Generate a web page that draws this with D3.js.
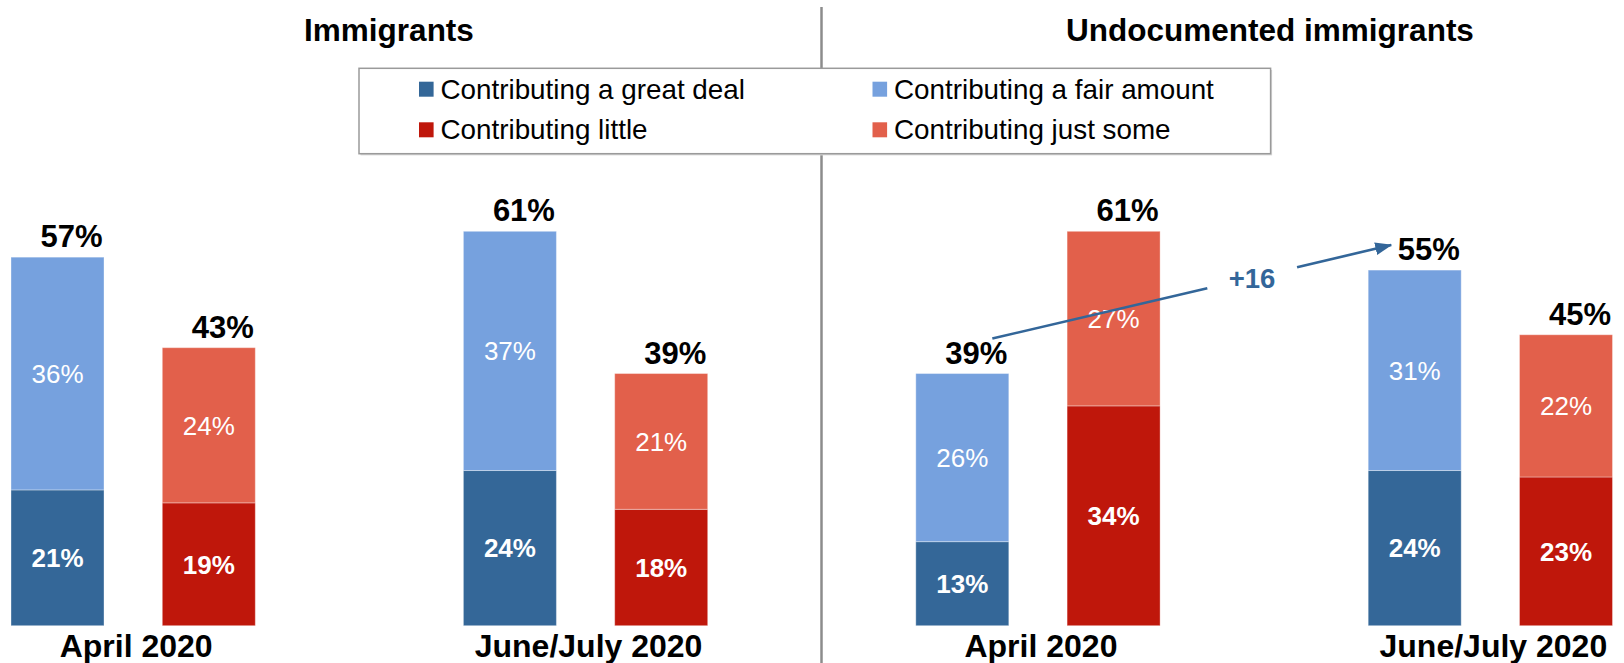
<!DOCTYPE html>
<html>
<head>
<meta charset="utf-8">
<script src="https://cdn.jsdelivr.net/npm/d3@7"></script>
<style>
  html, body { margin: 0; padding: 0; background: #fff; }
  svg { display: block; font-family: Arial, "Liberation Sans", sans-serif; }
</style>
</head>
<body>
<svg id="chart" width="1624" height="663"></svg>
<script>
// ---------- data ----------
const groups = ["imm_apr", "imm_jun", "und_apr", "und_jun"];
const categoryLabels = ["April 2020", "June/July 2020", "April 2020", "June/July 2020"];
const panelTitles = ["Immigrants", "Undocumented immigrants"];
const seriesNames = ["Contributing a great deal", "Contributing a fair amount", "Contributing little", "Contributing just some"];
const greatDeal  = [21, 24, 13, 24];
const fairAmount = [36, 37, 26, 31];
const little     = [19, 18, 34, 23];
const justSome   = [24, 21, 27, 22];
const positiveTotal = [57, 61, 39, 55];
const negativeTotal = [43, 39, 61, 45];
const changeLabel = "+16";

// ---------- styles ----------
const C = {
  greatDeal: "#346798",
  fairAmount: "#76A1DE",
  little: "#BF170B",
  justSome: "#E2604B",
  arrow: "#336699",
  divider: "#8c8c8c"
};

const svg = d3.select("#chart");

// ---------- scales ----------
const x = d3.scaleBand().domain(groups).range([11, 11 + 4 * 452.4]).paddingInner(0).paddingOuter(0);
const xi = d3.scaleBand().domain(["pos", "neg"]).range([0, 244.3]).paddingInner(0.3853).paddingOuter(0);
const y = d3.scaleLinear().domain([0, 61]).range([625.7, 231.3]);
const bw = xi.bandwidth();

// build stacked rows
const rows = groups.map((g, i) => ({
  g, i,
  pos: [{ v: greatDeal[i], c: C.greatDeal, bold: true }, { v: fairAmount[i], c: C.fairAmount, bold: false }],
  neg: [{ v: little[i], c: C.little, bold: true }, { v: justSome[i], c: C.justSome, bold: false }],
  posTotal: positiveTotal[i],
  negTotal: negativeTotal[i]
}));

const segs = [];
rows.forEach(r => {
  ["pos", "neg"].forEach(side => {
    let acc = 0;
    r[side].forEach(s => {
      segs.push({ g: r.g, side, y0: acc, y1: acc + s.v, v: s.v, c: s.c, bold: s.bold });
      acc += s.v;
    });
  });
});

// ---------- divider ----------
svg.append("line")
  .attr("x1", 821.5).attr("x2", 821.5)
  .attr("y1", 7).attr("y2", 663)
  .attr("stroke", C.divider).attr("stroke-width", 2.5);

// ---------- titles ----------
const titleX = [389, 1270];
svg.selectAll("text.title").data(panelTitles).join("text")
  .attr("class", "title")
  .attr("x", (d, i) => titleX[i]).attr("y", 41)
  .attr("text-anchor", "middle")
  .attr("font-size", 31.5).attr("font-weight", "bold").attr("fill", "#000")
  .text(d => d);

// ---------- legend ----------
const lg = svg.append("g");
lg.append("rect")
  .attr("x", 360.5).attr("y", 70).attr("width", 911.6).attr("height", 85.4)
  .attr("fill", "#d9d9d9");
lg.append("rect")
  .attr("x", 359).attr("y", 68.3).attr("width", 911.6).attr("height", 85.4)
  .attr("fill", "#fff").attr("stroke", "#9a9a9a").attr("stroke-width", 1.5);
const legendItems = [
  { name: seriesNames[0], c: C.greatDeal, col: 0, row: 0 },
  { name: seriesNames[1], c: C.fairAmount, col: 1, row: 0 },
  { name: seriesNames[2], c: C.little, col: 0, row: 1 },
  { name: seriesNames[3], c: C.justSome, col: 1, row: 1 }
];
const legColX = [419, 872.5];
const legRowY = [98.7, 139.3];
const li = lg.selectAll("g.li").data(legendItems).join("g").attr("class", "li");
li.append("rect")
  .attr("x", d => legColX[d.col]).attr("y", d => legRowY[d.row] - 17)
  .attr("width", 14.6).attr("height", 15)
  .attr("fill", d => d.c);
li.append("text")
  .attr("x", d => legColX[d.col] + 21.5).attr("y", d => legRowY[d.row])
  .attr("font-size", 27.8).attr("fill", "#000")
  .text(d => d.name);

// ---------- bars ----------
const barG = svg.append("g");
barG.selectAll("rect.seg").data(segs).join("rect")
  .attr("class", "seg")
  .attr("x", d => x(d.g) + xi(d.side))
  .attr("y", d => y(d.y1))
  .attr("width", bw)
  .attr("height", d => y(d.y0) - y(d.y1))
  .attr("fill", d => d.c)
  .attr("stroke", "rgba(255,255,255,0.35)")
  .attr("stroke-width", 1);

// segment labels
barG.selectAll("text.seglab").data(segs).join("text")
  .attr("class", "seglab")
  .attr("x", d => x(d.g) + xi(d.side) + bw / 2)
  .attr("y", d => (y(d.y0) + y(d.y1)) / 2)
  .attr("dy", "0.36em")
  .attr("text-anchor", "middle")
  .attr("font-size", 26)
  .attr("font-weight", d => d.bold ? "bold" : "normal")
  .attr("fill", "#fff")
  .text(d => d.v + "%");

// total labels
const totals = [];
rows.forEach(r => {
  totals.push({ g: r.g, side: "pos", v: r.posTotal });
  totals.push({ g: r.g, side: "neg", v: r.negTotal });
});
svg.selectAll("text.total").data(totals).join("text")
  .attr("class", "total")
  .attr("x", d => x(d.g) + xi(d.side) + bw / 2 + 14)
  .attr("y", d => y(d.v) - 10)
  .attr("text-anchor", "middle")
  .attr("font-size", 31).attr("font-weight", "bold").attr("fill", "#000")
  .text(d => d.v + "%");

// category labels
svg.selectAll("text.cat").data(groups).join("text")
  .attr("class", "cat")
  .attr("x", (d, i) => x(d) + (xi.range()[1]) / 2 + 3)
  .attr("y", 656.5)
  .attr("text-anchor", "middle")
  .attr("font-size", 32).attr("font-weight", "bold").attr("fill", "#000")
  .text((d, i) => categoryLabels[i]);

// ---------- change arrow ----------
const p0 = [x(groups[2]) + xi("pos") + bw / 2 + 30, y(positiveTotal[2]) - 35];
const p1 = [x(groups[3]) + xi("pos") + 23, y(positiveTotal[3]) - 25];
const lerp = t => [p0[0] + (p1[0] - p0[0]) * t, p0[1] + (p1[1] - p0[1]) * t];
const gapA = lerp(0.539), gapB = lerp(0.764), mid = lerp(0.651);

const defs = svg.append("defs");
defs.append("marker")
  .attr("id", "ah")
  .attr("markerUnits", "userSpaceOnUse")
  .attr("viewBox", "0 0 16 12")
  .attr("refX", 15).attr("refY", 6)
  .attr("markerWidth", 17).attr("markerHeight", 13)
  .attr("orient", "auto")
  .append("path").attr("d", "M0,0 L16,6 L0,12 Z").attr("fill", C.arrow);

svg.append("line")
  .attr("x1", p0[0]).attr("y1", p0[1]).attr("x2", gapA[0]).attr("y2", gapA[1])
  .attr("stroke", C.arrow).attr("stroke-width", 2.6);
svg.append("line")
  .attr("x1", gapB[0]).attr("y1", gapB[1]).attr("x2", p1[0]).attr("y2", p1[1])
  .attr("stroke", C.arrow).attr("stroke-width", 2.6)
  .attr("marker-end", "url(#ah)");
svg.append("text")
  .attr("x", mid[0]).attr("y", mid[1]).attr("dy", "0.36em")
  .attr("text-anchor", "middle")
  .attr("font-size", 27.5).attr("font-weight", "bold").attr("fill", C.arrow)
  .text(changeLabel);
</script>
</body>
</html>
